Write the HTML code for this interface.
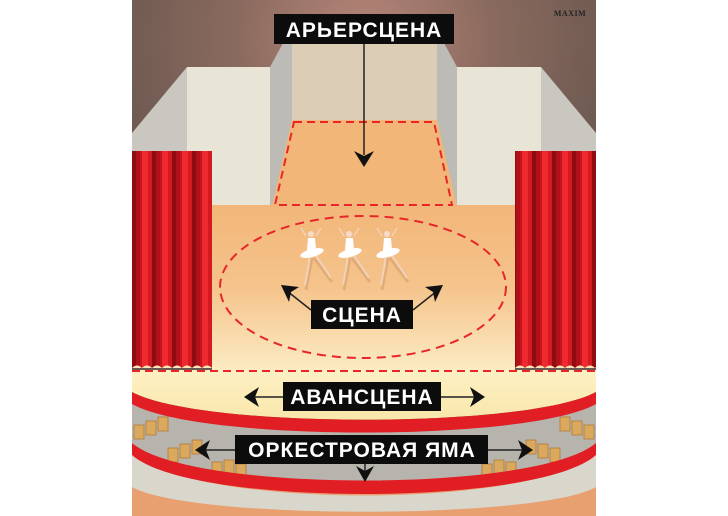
<!DOCTYPE html>
<html><head><meta charset="utf-8"><style>
html,body{margin:0;padding:0;background:#fff;width:728px;height:516px;overflow:hidden}
svg{display:block}
text{font-family:"Liberation Sans",sans-serif;font-weight:bold}
</style></head><body>
<svg width="728" height="516" viewBox="0 0 728 516" xmlns="http://www.w3.org/2000/svg">
<defs>
<radialGradient id="bg" cx="364" cy="40" r="260" gradientUnits="userSpaceOnUse">
<stop offset="0" stop-color="#b8867a"/><stop offset="0.5" stop-color="#8a6a5e"/><stop offset="1" stop-color="#6b5850"/></radialGradient>
<linearGradient id="floor" x1="0" y1="205" x2="0" y2="372" gradientUnits="userSpaceOnUse">
<stop offset="0" stop-color="#f2b679"/><stop offset="0.5" stop-color="#f5c48c"/><stop offset="1" stop-color="#fcecc4"/></linearGradient>
<pattern id="cur" x="132" y="0" width="20" height="10" patternUnits="userSpaceOnUse">
<rect width="20" height="10" fill="#c8141c"/>
<rect x="0" width="4" height="10" fill="#8e0c12"/>
<rect x="4" width="4" height="10" fill="#b01018"/>
<rect x="10" width="6" height="10" fill="#ee2a2e"/>
<rect x="16" width="4" height="10" fill="#d41a20"/>
</pattern>
<linearGradient id="apron" x1="0" y1="370" x2="0" y2="425" gradientUnits="userSpaceOnUse">
<stop offset="0" stop-color="#fdf0c4"/><stop offset="1" stop-color="#f8e6a8"/></linearGradient>
</defs>
<rect x="132" y="0" width="464" height="516" fill="url(#bg)"/>
<polygon points="132,133 187,67 187,210 132,210" fill="#c9c7c0"/>
<polygon points="596,133 541,67 541,210 596,210" fill="#c9c7c0"/>
<rect x="187" y="67" width="83" height="143" fill="#e9e5d6"/>
<rect x="457" y="67" width="84" height="143" fill="#e9e5d6"/>
<polygon points="270,67 283,43 292,43 292,210 270,210" fill="#bdbbb5"/>
<polygon points="457,67 444,43 437,43 437,210 457,210" fill="#bdbbb5"/>
<rect x="292" y="43" width="145" height="80" fill="#dccdb6"/>
<rect x="212" y="205" width="303" height="168" fill="url(#floor)"/>
<polygon points="292,120 437,120 457,206 272,206" fill="#f2b679"/>
<polygon points="294,122 434,122 452,205 275,205" fill="none" stroke="#e8262a" stroke-width="2" stroke-dasharray="8,5"/>
<rect x="132" y="151" width="80" height="217" fill="url(#cur)"/>
<rect x="515" y="151" width="81" height="217" fill="url(#cur)"/>
<path d="M132,368 q5,-5 10,0 q5,-5 10,0 q5,-5 10,0 q5,-5 10,0 q5,-5 10,0 q5,-5 10,0 q5,-5 10,0 q5,-5 10,0" fill="#fbe6bc"/>
<path d="M515,368 q5,-5 10,0 q5,-5 10,0 q5,-5 10,0 q5,-5 10,0 q5,-5 10,0 q5,-5 10,0 q5,-5 10,0 q5,-5 10,0 q5,-5 1,0" fill="#fbe6bc"/>
<rect x="132" y="440" width="464" height="76" fill="#e8a070"/>
<path d="M132,452 C190,510 538,510 596,452 L596,487 C538,520 190,520 132,487 Z" fill="#d9d6cc"/>
<path d="M132,400 C200,440 528,440 596,400 L596,450 C538,500 190,500 132,450 Z" fill="#b7b4ad"/>
<g fill="#dba95e" stroke="#b07a38" stroke-width="0.8">
<rect x="134" y="425" width="10" height="14"/><rect x="146" y="421" width="10" height="14"/><rect x="158" y="417" width="10" height="14"/>
<rect x="168" y="448" width="10" height="14"/><rect x="180" y="444" width="10" height="14"/><rect x="192" y="440" width="10" height="14"/>
<rect x="212" y="462" width="10" height="14"/><rect x="224" y="460" width="10" height="14"/><rect x="236" y="464" width="10" height="14"/>
<rect x="584" y="425" width="10" height="14"/><rect x="572" y="421" width="10" height="14"/><rect x="560" y="417" width="10" height="14"/>
<rect x="550" y="448" width="10" height="14"/><rect x="538" y="444" width="10" height="14"/><rect x="526" y="440" width="10" height="14"/>
<rect x="506" y="462" width="10" height="14"/><rect x="494" y="460" width="10" height="14"/><rect x="482" y="464" width="10" height="14"/>
</g>
<path d="M132,443 C190,493 538,493 596,443 L596,455 C538,507 190,507 132,455 Z" fill="#e01e24"/>
<path d="M132,370 L596,370 L596,392 C528,429 200,429 132,392 Z" fill="url(#apron)"/>
<path d="M132,392 C200,429 528,429 596,392 L596,404 C528,442 200,442 132,404 Z" fill="#e01e24"/>
<line x1="132" y1="371" x2="596" y2="371" stroke="#e8262a" stroke-width="2" stroke-dasharray="8,5"/>
<ellipse cx="363" cy="287" rx="143" ry="71" fill="none" stroke="#e8262a" stroke-width="2" stroke-dasharray="9,6"/>
<g id="d">
<path d="M312,258 l-6,32 M314,258 l18,24" stroke="#d8a470" stroke-width="3" fill="none" opacity="0.7"/>
<path d="M311,245 l-2,18 l-4,22 M313,252 l10,14 l8,12" stroke="#f2d2b8" stroke-width="2" fill="none"/>
<path d="M306,236 l-5,-8 M316,236 l5,-8" stroke="#f2d2b8" stroke-width="1.5"/>
<circle cx="311" cy="234" r="3" fill="#f4dcc8"/>
<path d="M308,238 h7 l1,12 h-9 z" fill="#fff"/>
<ellipse cx="312" cy="253" rx="12" ry="4" fill="#fff" transform="rotate(-15 312 253)"/>
</g>
<use href="#d" x="38"/><use href="#d" x="76"/>
<line x1="364" y1="44" x2="364" y2="155" stroke="#222" stroke-width="1.5"/>
<polygon points="354,151 364,156 374,151 364,167" fill="#111"/>
<rect x="274" y="14" width="180" height="30" fill="#0c0c0c"/>
<text x="364" y="37" font-size="21" fill="#fff" text-anchor="middle" letter-spacing="1">АРЬЕРСЦЕНА</text>
<line x1="311" y1="310" x2="287" y2="291" stroke="#222" stroke-width="1.5"/>
<polygon points="281,285 299,287 291,292 289,302" fill="#111"/>
<line x1="413" y1="310" x2="437" y2="291" stroke="#222" stroke-width="1.5"/>
<polygon points="443,285 425,287 433,292 435,302" fill="#111"/>
<rect x="311" y="300" width="102" height="29" fill="#0c0c0c"/>
<text x="362" y="322" font-size="21" fill="#fff" text-anchor="middle" letter-spacing="1">СЦЕНА</text>
<line x1="250" y1="397" x2="480" y2="397" stroke="#222" stroke-width="1.5"/>
<polygon points="244,397 259,387 255,397 259,407" fill="#111"/>
<polygon points="485,397 470,387 474,397 470,407" fill="#111"/>
<rect x="283" y="382" width="158" height="29" fill="#0c0c0c"/>
<text x="362" y="404" font-size="21" fill="#fff" text-anchor="middle" letter-spacing="1">АВАНСЦЕНА</text>
<line x1="200" y1="450" x2="528" y2="450" stroke="#222" stroke-width="1.5"/>
<polygon points="195,450 210,440 206,450 210,460" fill="#111"/>
<polygon points="533,450 518,440 522,450 518,460" fill="#111"/>
<line x1="365" y1="464" x2="365" y2="476" stroke="#222" stroke-width="1.5"/>
<polygon points="356,466 365,471 374,466 365,482" fill="#111"/>
<rect x="235" y="435" width="253" height="29" fill="#0c0c0c"/>
<text x="362" y="457" font-size="21" fill="#fff" text-anchor="middle" letter-spacing="1">ОРКЕСТРОВАЯ ЯМА</text>
<text x="570" y="16" font-size="8" fill="#222" text-anchor="middle" style="font-family:'Liberation Serif',serif" letter-spacing="0.5">MAXIM</text>
</svg>
</body></html>
